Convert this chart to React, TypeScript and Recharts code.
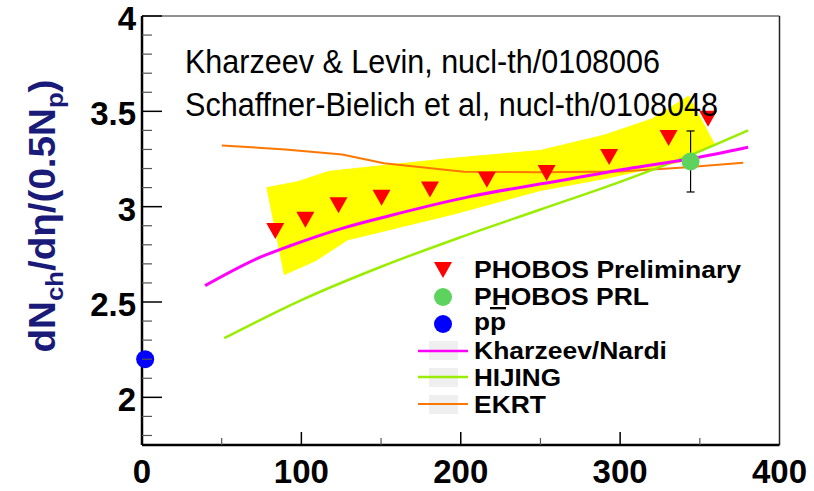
import React from 'react';
import {
  ComposedChart,
  Line,
  Scatter,
  XAxis,
  YAxis,
  ReferenceLine,
  ErrorBar,
} from 'recharts';

// axis ticks
const xTicks = [0, 50, 100, 150, 200, 250, 300, 350, 400];
const xMajorTicks = [0, 100, 200, 300, 400];
const yTicks = [1.8, 1.9, 2.0, 2.1, 2.2, 2.3, 2.4, 2.5, 2.6, 2.7, 2.8, 2.9, 3.0, 3.1, 3.2, 3.3, 3.4, 3.5, 3.6, 3.7, 3.8, 3.9, 4.0];
const yMajorTicks = [2, 2.5, 3, 3.5, 4];

// PHOBOS preliminary (red triangles)
const prelimNpart = [83.6, 102.5, 123.3, 150.3, 180.7, 216.4, 253.9, 293.1, 330.4, 355.2];
const prelimDn = [2.873, 2.931, 3.008, 3.047, 3.09, 3.141, 3.176, 3.26, 3.36, 3.461];

// systematic band around the preliminary points (outline, clockwise)
const bandNpart = [78.4, 97.3, 117.2, 190, 250, 290, 320, 343, 359, 338, 292, 250, 195, 129, 109, 89.3];
const bandDn = [3.1, 3.13, 3.185, 3.25, 3.295, 3.375, 3.46, 3.58, 3.33, 3.235, 3.15, 3.085, 2.96, 2.826, 2.717, 2.644];

// PHOBOS PRL (green dot with error)
const prlNpart = [344.2];
const prlDn = [3.237];
const prlErr = [0.16];

// p pbar
const ppNpart = [2];
const ppDn = [2.2];

// model curves
const knNpart = [39.6, 74.2, 93, 126.6, 156, 206.3, 262.9, 304.8, 344.2, 380.3];
const knDn = [2.586, 2.735, 2.795, 2.889, 2.954, 3.054, 3.137, 3.199, 3.251, 3.312];

const hijingNpart = [51.6, 100, 150, 200, 250, 300, 344, 380.3];
const hijingDn = [2.31, 2.51, 2.685, 2.84, 2.985, 3.13, 3.27, 3.4];

const ekrtNpart = [50.1, 90, 125.6, 151.8, 202, 250, 300, 340, 377.2];
const ekrtDn = [3.321, 3.3, 3.274, 3.228, 3.183, 3.18, 3.185, 3.205, 3.23];

const toPoints = (xs: number[], ys: number[], errs?: number[]) =>
  xs.map((x, i) => ({ x, y: ys[i], err: errs ? errs[i] : 0 }));

const FONT = '"Liberation Sans", Arial, Helvetica, sans-serif';

const C_MAGENTA = '#ff00ff';
const C_HIJING = '#99ee00';
const C_EKRT = '#ff7700';
const C_PRL = '#5cd35c';

const YTick = (props: any) => {
  const { x, y, payload } = props;
  const v = payload.value;
  const major = yMajorTicks.some((m) => Math.abs(m - v) < 1e-6);
  return (
    <g>
      <line
        x1={x}
        x2={x + (major ? 20 : 10)}
        y1={y}
        y2={y}
        stroke={major ? '#000' : '#555'}
        strokeWidth={major ? 1.5 : 1.2}
      />
      {major && (
        <text x={x - 6} y={y + 14} textAnchor="end" fontSize={33} fontWeight="bold" fontFamily={FONT} fill="#000">
          {String(Math.round(v * 10) / 10)}
        </text>
      )}
    </g>
  );
};

const XTick = (props: any) => {
  const { x, y, payload } = props;
  const v = payload.value;
  const major = xMajorTicks.includes(v);
  return (
    <g>
      {v !== 0 && v !== 400 && (
        <line x1={x} x2={x} y1={y} y2={y - (major ? 13 : 7)} stroke={major ? '#000' : '#555'} strokeWidth={major ? 1.5 : 1.2} />
      )}
      {major && (
        <text x={x} y={y + 38} textAnchor="middle" fontSize={33} fontWeight="bold" fontFamily={FONT} fill="#000">
          {v}
        </text>
      )}
    </g>
  );
};

const DownTriangle = (props: any) => {
  const { cx, cy } = props;
  return <polygon points={`${cx - 9},${cy - 8} ${cx + 9},${cy - 8} ${cx},${cy + 8}`} fill="#ff0000" />;
};

const Dot = (color: string) => (props: any) => <circle cx={props.cx} cy={props.cy} r={9} fill={color} />;

const renderNothing = () => <g />;

const legendText = { fontFamily: FONT, fontWeight: 'bold' as const, fontSize: 23, fill: '#000' };

export default function App() {
  return (
    <div style={{ position: 'absolute', left: 0, top: 0, width: 814, height: 491, background: '#fff' }}>
      <ComposedChart width={814} height={491} margin={{ top: 16, right: 34.5, left: 0, bottom: 0 }}>
        <XAxis
          type="number"
          dataKey="x"
          domain={[0, 400]}
          ticks={xTicks}
          interval={0}
          tick={<XTick />}
          tickLine={false}
          tickSize={0}
          tickMargin={0}
          height={46}
          axisLine={{ stroke: '#000', strokeWidth: 2.5 }}
        />
        <YAxis
          type="number"
          domain={[1.75, 4]}
          ticks={yTicks}
          interval={0}
          tick={<YTick />}
          tickLine={false}
          tickSize={0}
          tickMargin={0}
          width={142}
          axisLine={{ stroke: '#000', strokeWidth: 2.5 }}
        />
        <ReferenceLine y={4} stroke="#222" strokeWidth={1} />
        <ReferenceLine x={400} stroke="#222" strokeWidth={1.5} />

        <Scatter
          data={toPoints(bandNpart, bandDn)}
          dataKey="y"
          shape={renderNothing}
          line={{ fill: '#ffff00', stroke: '#ffff00', strokeWidth: 1 }}
          lineType="joint"
          lineJointType="linearClosed"
          isAnimationActive={false}
          zIndex={50}
        />

        <Line data={toPoints(ekrtNpart, ekrtDn)} dataKey="y" type="linear" stroke={C_EKRT} strokeWidth={2} dot={false} isAnimationActive={false} />
        <Line data={toPoints(hijingNpart, hijingDn)} dataKey="y" type="monotone" stroke={C_HIJING} strokeWidth={2.5} dot={false} isAnimationActive={false} />
        <Line data={toPoints(knNpart, knDn)} dataKey="y" type="monotone" stroke={C_MAGENTA} strokeWidth={3} dot={false} isAnimationActive={false} />

        <Scatter data={toPoints(prelimNpart, prelimDn)} dataKey="y" shape={DownTriangle} isAnimationActive={false} />
        <Scatter data={toPoints(prlNpart, prlDn, prlErr)} dataKey="y" shape={Dot(C_PRL)} isAnimationActive={false}>
          <ErrorBar dataKey="err" direction="y" width={4} stroke="#000" strokeWidth={1.2} />
        </Scatter>
        <Scatter data={toPoints(ppNpart, ppDn)} dataKey="y" shape={Dot('#0000ff')} isAnimationActive={false} />
      </ComposedChart>

      <svg width={814} height={491} style={{ position: 'absolute', left: 0, top: 0, pointerEvents: 'none' }}>
        <text x={185} y={73} fontSize={33} fontFamily={FONT} fill="#000" textLength={475} lengthAdjust="spacingAndGlyphs">
          Kharzeev &amp; Levin, nucl-th/0108006
        </text>
        <text x={185} y={116} fontSize={33} fontFamily={FONT} fill="#000" textLength={533} lengthAdjust="spacingAndGlyphs">
          Schaffner-Bielich et al, nucl-th/0108048
        </text>

        <text
          transform="translate(55,216) rotate(-90)"
          textAnchor="middle"
          fontSize={36}
          fontWeight="bold"
          fontFamily={FONT}
          fill="#1a1a78"
          textLength={273}
          lengthAdjust="spacingAndGlyphs"
        >
          dN<tspan dy={8} fontSize={24}>ch</tspan>
          <tspan dy={-8}>/dη/(0.5N</tspan>
          <tspan dy={8} fontSize={24}>p</tspan>
          <tspan dy={-8}>)</tspan>
        </text>

        {/* legend */}
        <polygon points="434,262 452,262 443,278" fill="#ff0000" />
        <text x={474} y={278} {...legendText} textLength={267} lengthAdjust="spacingAndGlyphs">PHOBOS Preliminary</text>
        <circle cx={443} cy={297} r={9} fill={C_PRL} />
        <text x={474} y={305} {...legendText} textLength={175} lengthAdjust="spacingAndGlyphs">PHOBOS PRL</text>
        <circle cx={443} cy={324} r={9} fill="#0000ff" />
        <text x={474} y={330} {...legendText} textLength={32} lengthAdjust="spacingAndGlyphs">
          p<tspan style={{ textDecoration: 'overline' }}>p</tspan>
        </text>
        <rect x={429} y={341} width={29} height={19} fill="#efefef" />
        <line x1={418} x2={468} y1={351} y2={351} stroke={C_MAGENTA} strokeWidth={2.5} />
        <text x={474} y={359} {...legendText} textLength={193} lengthAdjust="spacingAndGlyphs">Kharzeev/Nardi</text>
        <rect x={429} y={368} width={29} height={19} fill="#efefef" />
        <line x1={418} x2={468} y1={377} y2={377} stroke={C_HIJING} strokeWidth={2.5} />
        <text x={474} y={386} {...legendText} textLength={87} lengthAdjust="spacingAndGlyphs">HIJING</text>
        <rect x={429} y={395} width={29} height={19} fill="#efefef" />
        <line x1={418} x2={468} y1={404} y2={404} stroke={C_EKRT} strokeWidth={2} />
        <text x={474} y={413} {...legendText} textLength={72} lengthAdjust="spacingAndGlyphs">EKRT</text>
      </svg>
    </div>
  );
}
